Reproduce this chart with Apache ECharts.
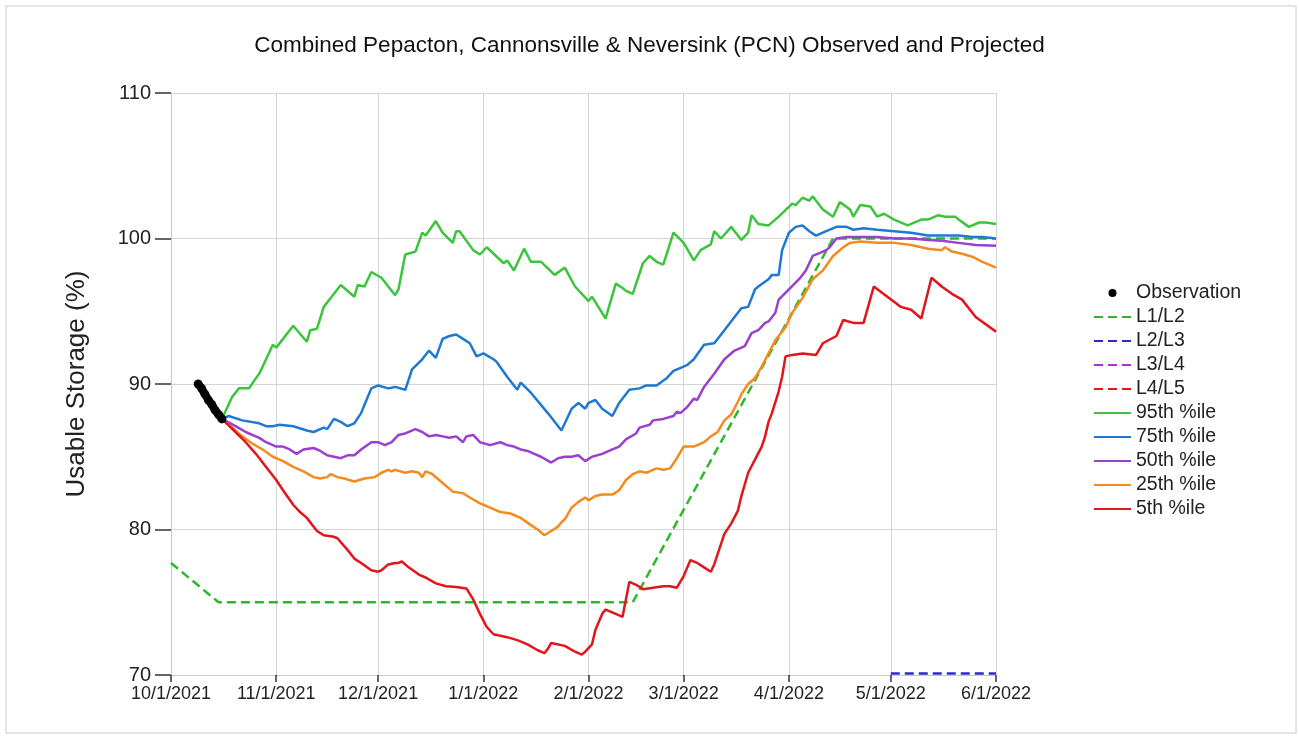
<!DOCTYPE html>
<html>
<head>
  <meta charset="UTF-8">
  <title>PCN Observed and Projected</title>
  <script src="https://cdn.jsdelivr.net/npm/echarts@6.0.0/dist/echarts.min.js"></script>
  <style>
    html, body { margin: 0; padding: 0; background: #fff; }
    #main { width: 1299px; height: 738px; }
  </style>
</head>
<body>
  <div id="main"></div>
  <script>
    // day offsets counted from 10/1/2021
    var startYear = 2021, startMonth = 9, startDay = 1;
    var monthTicks = [[2021, 10], [2021, 11], [2021, 12], [2022, 1], [2022, 2], [2022, 3], [2022, 4], [2022, 5], [2022, 6]];

    // observation
    var obsDays = [8, 9, 10, 11, 12, 13, 14, 15];
    var obsVals = [90.0, 89.7, 89.3, 88.9, 88.6, 88.2, 87.9, 87.6];

    // drought levels
    var l1l2 = [[0, 77.7], [14, 75.0], [136, 75.0], [195, 100.0], [243, 100.0]];
    var l2l3 = [[212, 70.1], [243, 70.1]];
    var l3l4 = [];
    var l4l5 = [];

    // percentiles [day, %]
    var p95 = [[15,87.6],[18,89.1],[20,89.7],[23,89.7],[25,90.4],[26,90.7],[30,92.7],[31,92.5],[36,94.0],[40,92.9],[41,93.7],[43,93.8],[45,95.3],[48,96.2],[50,96.8],[54,96.0],[55,96.8],[57,96.7],[59,97.7],[62,97.3],[66,96.1],[67,96.5],[69,98.9],[72,99.1],[74,100.4],[75,100.2],[78,101.2],[80,100.4],[83,99.7],[84,100.5],[85,100.5],[89,99.2],[91,98.9],[93,99.4],[98,98.3],[99,98.5],[101,97.8],[104,99.3],[106,98.4],[109,98.4],[113,97.5],[116,98.0],[119,96.7],[123,95.7],[124,96.0],[128,94.5],[131,96.9],[133,96.6],[134,96.4],[136,96.2],[139,98.3],[141,98.8],[143,98.4],[145,98.2],[148,100.4],[151,99.7],[154,98.5],[156,99.2],[159,99.6],[160,100.5],[162,100.0],[165,100.8],[168,99.9],[170,100.4],[171,101.6],[173,101.0],[176,100.9],[179,101.5],[183,102.4],[184,102.3],[186,102.8],[188,102.6],[189,102.9],[192,102.0],[195,101.5],[197,102.5],[200,102.0],[201,101.5],[203,102.3],[206,102.2],[208,101.5],[210,101.7],[213,101.3],[217,100.9],[221,101.3],[223,101.3],[226,101.6],[228,101.5],[231,101.5],[232,101.3],[235,100.8],[238,101.1],[240,101.1],[243,101.0]];
    var p75 = [[15,87.6],[17,87.8],[21,87.5],[26,87.3],[28,87.1],[30,87.1],[32,87.2],[36,87.1],[40,86.8],[42,86.7],[45,87.0],[46,86.9],[48,87.6],[50,87.4],[52,87.1],[54,87.3],[56,88.0],[59,89.7],[61,89.9],[64,89.7],[66,89.8],[69,89.6],[71,91.0],[74,91.7],[76,92.3],[78,91.8],[80,93.1],[82,93.3],[84,93.4],[86,93.1],[88,92.8],[90,91.9],[92,92.1],[95,91.7],[96,91.5],[99,90.5],[102,89.6],[103,90.1],[106,89.4],[111,88.0],[115,86.8],[117,87.8],[118,88.3],[120,88.7],[122,88.3],[123,88.7],[125,88.9],[127,88.3],[130,87.8],[132,88.7],[135,89.6],[138,89.7],[140,89.9],[143,89.9],[146,90.4],[148,90.9],[152,91.3],[154,91.7],[157,92.7],[160,92.8],[163,93.7],[166,94.6],[168,95.2],[170,95.3],[172,96.5],[173,96.7],[176,97.2],[177,97.5],[179,97.5],[180,99.2],[182,100.4],[184,100.8],[186,100.9],[188,100.5],[190,100.2],[193,100.5],[196,100.8],[199,100.8],[201,100.6],[204,100.7],[208,100.6],[213,100.5],[218,100.4],[223,100.2],[227,100.2],[232,100.2],[236,100.1],[239,100.1],[243,100.0]];
    var p50 = [[15,87.6],[19,87.1],[22,86.7],[26,86.3],[28,86.0],[31,85.7],[33,85.7],[35,85.5],[37,85.2],[39,85.5],[42,85.6],[44,85.4],[46,85.1],[48,85.0],[50,84.9],[52,85.1],[54,85.1],[56,85.5],[59,86.0],[61,86.0],[63,85.8],[65,86.0],[67,86.5],[69,86.6],[72,86.9],[74,86.7],[76,86.4],[78,86.5],[80,86.4],[82,86.3],[84,86.4],[86,86.0],[87,86.4],[89,86.5],[91,86.0],[94,85.8],[97,86.0],[99,85.8],[101,85.7],[103,85.5],[105,85.4],[107,85.2],[109,85.0],[112,84.6],[114,84.9],[116,85.0],[118,85.0],[120,85.1],[122,84.7],[124,85.0],[127,85.2],[130,85.5],[132,85.7],[134,86.2],[137,86.6],[138,87.0],[141,87.2],[142,87.5],[145,87.6],[148,87.8],[149,88.1],[150,88.0],[152,88.4],[154,89.0],[155,88.9],[157,89.8],[160,90.7],[163,91.7],[166,92.3],[169,92.6],[171,93.5],[173,93.7],[175,94.2],[176,94.3],[178,94.9],[179,95.8],[182,96.5],[185,97.2],[187,97.8],[189,98.8],[191,99.0],[193,99.2],[194,99.4],[196,100.0],[199,100.1],[203,100.1],[208,100.1],[213,100.0],[218,100.0],[223,99.9],[227,99.85],[232,99.7],[237,99.55],[243,99.5]];
    var p25 = [[15,87.6],[18,87.0],[21,86.4],[24,85.9],[27,85.5],[30,85.0],[33,84.7],[36,84.3],[39,84.0],[42,83.6],[44,83.5],[46,83.6],[47,83.8],[49,83.6],[51,83.5],[54,83.3],[57,83.5],[60,83.6],[62,83.9],[64,84.1],[65,84.0],[66,84.1],[69,83.9],[71,84.0],[73,83.9],[74,83.6],[75,84.0],[77,83.8],[80,83.2],[83,82.6],[86,82.5],[88,82.2],[91,81.8],[94,81.5],[97,81.2],[100,81.1],[103,80.8],[106,80.3],[108,80.0],[110,79.6],[112,79.9],[114,80.2],[115,80.5],[116,80.7],[118,81.5],[120,81.9],[122,82.2],[123,82.0],[125,82.3],[127,82.4],[130,82.4],[132,82.7],[134,83.4],[136,83.8],[138,84.0],[140,83.9],[143,84.2],[145,84.1],[147,84.2],[149,84.9],[151,85.7],[154,85.7],[157,86.0],[159,86.4],[161,86.7],[163,87.5],[165,87.9],[167,88.8],[168,89.3],[170,90.0],[172,90.4],[174,91.2],[176,92.1],[178,93.0],[181,93.9],[183,94.9],[186,95.9],[189,97.2],[192,97.8],[195,98.8],[198,99.4],[200,99.7],[203,99.8],[208,99.7],[213,99.7],[218,99.55],[223,99.3],[227,99.2],[228,99.4],[230,99.1],[233,98.95],[236,98.75],[239,98.4],[243,98.0]];
    var p5 = [[15,87.6],[19,86.7],[22,86.0],[25,85.2],[28,84.3],[31,83.4],[33,82.7],[36,81.7],[38,81.2],[40,80.8],[43,79.9],[45,79.6],[48,79.5],[49,79.4],[52,78.6],[54,78.0],[56,77.7],[59,77.2],[61,77.1],[62,77.2],[64,77.6],[66,77.7],[67,77.7],[68,77.8],[70,77.4],[73,76.9],[75,76.7],[78,76.3],[81,76.1],[84,76.05],[87,75.95],[89,75.2],[91,74.2],[93,73.3],[95,72.8],[99,72.6],[102,72.4],[105,72.1],[108,71.7],[110,71.5],[111,71.8],[112,72.2],[116,72.0],[119,71.6],[121,71.4],[122,71.6],[124,72.1],[125,73.1],[127,74.2],[128,74.5],[131,74.2],[133,74.0],[135,76.4],[137,76.2],[139,75.9],[142,76.0],[145,76.1],[147,76.1],[149,76.0],[151,76.8],[153,77.9],[155,77.7],[157,77.4],[159,77.1],[160,77.6],[163,79.7],[165,80.4],[167,81.3],[168,82.3],[170,83.9],[172,84.8],[174,85.7],[175,86.4],[176,87.4],[177,88.0],[179,89.5],[180,90.5],[181,91.9],[183,92.0],[186,92.1],[190,92.0],[192,92.8],[196,93.3],[198,94.4],[201,94.2],[204,94.2],[207,96.7],[211,96.0],[215,95.3],[218,95.1],[221,94.5],[224,97.3],[227,96.7],[230,96.2],[233,95.8],[237,94.6],[243,93.6]];

    var yTicks = [70, 80, 90, 100, 110];

    function dayTs(d) {
      return new Date(startYear, startMonth, startDay + d).getTime();
    }
    function toTime(arr) {
      return arr.map(function (p) { return [dayTs(p[0]), p[1]]; });
    }
    var tickTimes = monthTicks.map(function (m) { return new Date(m[0], m[1] - 1, 1).getTime(); });
    var obsData = obsDays.map(function (d, i) { return [dayTs(d), obsVals[i]]; });

    var font = 'Liberation Sans, Arial, sans-serif';

    function lineSeries(name, data, color, dashed) {
      return {
        name: name,
        type: 'line',
        data: toTime(data),
        symbol: 'none',
        showSymbol: false,
        animation: false,
        lineStyle: { color: color, width: 2.5, type: dashed ? [9, 5] : 'solid' },
        itemStyle: { color: color }
      };
    }

    var myChart = echarts.init(document.getElementById('main'));
    var option = {
      backgroundColor: '#fff',
      animation: false,
      title: {
        text: 'Combined Pepacton, Cannonsville & Neversink (PCN) Observed and Projected',
        left: 'center',
        top: 29,
        textStyle: { fontFamily: font, fontSize: 22.5, fontWeight: 'normal', color: '#111' }
      },
      graphic: [{
        type: 'rect',
        shape: { x: 6, y: 6, width: 1290, height: 727 },
        style: { fill: 'none', stroke: '#dddddd', lineWidth: 1.5 },
        silent: true
      }],
      legend: {
        orient: 'vertical',
        left: 1088,
        top: 278,
        itemWidth: 37,
        itemHeight: 8,
        itemGap: 4,
        itemStyle: { opacity: 0 },
        textStyle: { fontFamily: font, fontSize: 19.5, color: '#222' },
        data: [
          { name: 'Observation', icon: 'circle', itemStyle: { opacity: 1, color: '#000' } },
          'L1/L2', 'L2/L3', 'L3/L4', 'L4/L5',
          '95th %ile', '75th %ile', '50th %ile', '25th %ile', '5th %ile'
        ]
      },
      grid: { left: 171, right: 303, top: 93, bottom: 63, containLabel: false, outerBoundsMode: 'none' },
      xAxis: {
        type: 'value',
        min: dayTs(0),
        max: dayTs(243),
        axisLine: { show: true, lineStyle: { color: '#c8c8c8', width: 1 } },
        axisTick: { show: true, length: 7, customValues: tickTimes, lineStyle: { color: '#333', width: 1.5 } },
        splitLine: { show: true, lineStyle: { color: '#d4d4d4', width: 1 } },
        axisLabel: {
          customValues: tickTimes,
          showMinLabel: true,
          showMaxLabel: true,
          margin: 10,
          fontFamily: font,
          fontSize: 18,
          color: '#222',
          formatter: function (v) {
            var d = new Date(v);
            return (d.getMonth() + 1) + '/' + d.getDate() + '/' + d.getFullYear();
          }
        }
      },
      yAxis: {
        type: 'value',
        min: yTicks[0],
        max: yTicks[yTicks.length - 1],
        interval: 10,
        name: 'Usable Storage (%)',
        nameLocation: 'middle',
        nameRotate: 90,
        nameGap: 81,
        nameTextStyle: { fontFamily: font, fontSize: 26, color: '#222' },
        axisLine: { show: true, lineStyle: { color: '#c8c8c8', width: 1 } },
        axisTick: { show: true, length: 16, lineStyle: { color: '#333', width: 1.5 } },
        splitLine: { show: true, lineStyle: { color: '#d4d4d4', width: 1 } },
        axisLabel: { margin: 20, fontFamily: font, fontSize: 20, color: '#222' }
      },
      series: [
        lineSeries('L1/L2', l1l2, '#2cb82c', true),
        lineSeries('L2/L3', l2l3, '#2a2ad0', true),
        lineSeries('L3/L4', l3l4, '#b030d8', true),
        lineSeries('L4/L5', l4l5, '#e01818', true),
        lineSeries('95th %ile', p95, '#3cc43c', false),
        lineSeries('75th %ile', p75, '#1f78d2', false),
        lineSeries('50th %ile', p50, '#9a3fd0', false),
        lineSeries('25th %ile', p25, '#f58a1f', false),
        lineSeries('5th %ile', p5, '#e2141c', false),
        {
          name: 'Observation',
          type: 'scatter',
          data: obsData,
          symbol: 'circle',
          symbolSize: 9,
          animation: false,
          itemStyle: { color: '#000' },
          z: 5
        },
        {
          name: 'obsTrace',
          type: 'line',
          data: obsData,
          symbol: 'none',
          animation: false,
          lineStyle: { color: '#000', width: 8, cap: 'round' },
          z: 5
        }
      ]
    };
    myChart.setOption(option);
  </script>
</body>
</html>
